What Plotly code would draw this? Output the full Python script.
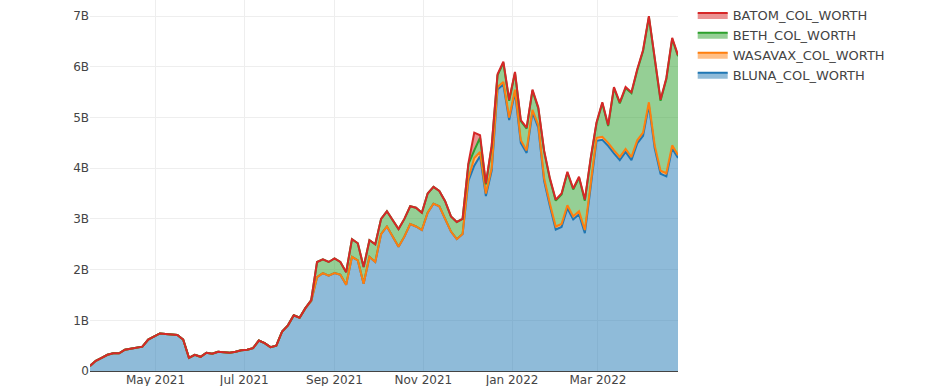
import pandas as pd
import plotly.graph_objects as go

# dates: every 4 days from 2021-03-17 (102 points)
dates = pd.date_range("2021-03-17", periods=102, freq="4D")

# values in billions
bluna = [0.10, 0.20, 0.26, 0.32, 0.35, 0.35, 0.42, 0.44, 0.47, 0.48,
         0.62, 0.68, 0.74, 0.73, 0.72, 0.71, 0.62, 0.26, 0.32, 0.28,
         0.36, 0.34, 0.38, 0.37, 0.36, 0.38, 0.41, 0.42, 0.45, 0.60,
         0.55, 0.47, 0.50, 0.78, 0.90, 1.10, 1.05, 1.24, 1.38, 1.85,
         1.93, 1.88, 1.93, 1.90, 1.70, 2.25, 2.18, 1.72, 2.25, 2.15,
         2.70, 2.85, 2.65, 2.45, 2.65, 2.90, 2.85, 2.78, 3.12, 3.30,
         3.25, 3.00, 2.75, 2.60, 2.70, 3.75, 4.05, 4.24, 3.45, 3.95,
         5.55, 5.65, 4.95, 5.50, 4.50, 4.30, 5.10, 4.80, 3.75, 3.25,
         2.79, 2.84, 3.21, 2.99, 3.09, 2.72, 3.64, 4.54, 4.56, 4.44,
         4.29, 4.16, 4.32, 4.16, 4.49, 4.64, 5.24, 4.39, 3.89, 3.84,
         4.39, 4.20]

wasavax = [0.0] * 65 + [0.05, 0.15, 0.08] + [0.05] * 12 + [0.06] * 22

beth = [0.0] * 38 + [0.02, 0.30,
        0.27, 0.27, 0.29, 0.25, 0.25, 0.35, 0.34, 0.33, 0.33, 0.35,
        0.30, 0.30, 0.33, 0.35, 0.35, 0.35, 0.37, 0.34, 0.38, 0.33,
        0.30, 0.35, 0.30, 0.34, 0.30, 0.28, 0.15, 0.28, 0.18, 0.43,
        0.23, 0.38, 0.33, 0.33, 0.38, 0.43, 0.38, 0.33, 0.53, 0.48,
        0.51, 0.58, 0.64, 0.53, 0.66, 0.58, 0.48, 0.28, 0.66, 0.33,
        1.23, 1.06, 1.20, 1.26, 1.38, 1.61, 1.68, 1.73, 1.38, 1.86,
        2.10, 1.95]

batom = [0.0] * 65 + [0.02, 0.35, 0.05] + [0.02] * 34

series = [
    ("BLUNA_COL_WORTH", bluna),
    ("WASAVAX_COL_WORTH", wasavax),
    ("BETH_COL_WORTH", beth),
    ("BATOM_COL_WORTH", batom),
]

fig = go.Figure()
for name, vals in series:
    fig.add_trace(go.Scatter(
        x=dates, y=[v * 1e9 for v in vals], name=name,
        mode="lines", stackgroup="one", line=dict(width=2),
    ))

fig.update_layout(
    template="none",
    width=936, height=386,
    margin=dict(l=90, r=258, t=0, b=15, pad=0),
    font=dict(family="Verdana, DejaVu Sans", size=12, color="#444"),
    paper_bgcolor="white", plot_bgcolor="white",
    showlegend=True,
    legend=dict(traceorder="reversed", x=1.025, y=1, xanchor="left",
                yanchor="top", font=dict(size=13)),
    xaxis=dict(
        range=["2021-03-17", "2022-04-25"], automargin=False,
        tickformat="%b %Y", dtick="M2", tick0="2021-01-01",
        showgrid=True, gridcolor="#eee", zeroline=False,
    ),
    yaxis=dict(
        range=[0, 7.317e9], automargin=False, exponentformat="B",
        dtick=1e9, showgrid=True, gridcolor="#eee",
        zeroline=True, zerolinecolor="#444", zerolinewidth=1,
    ),
)

fig.write_html("out.html")
